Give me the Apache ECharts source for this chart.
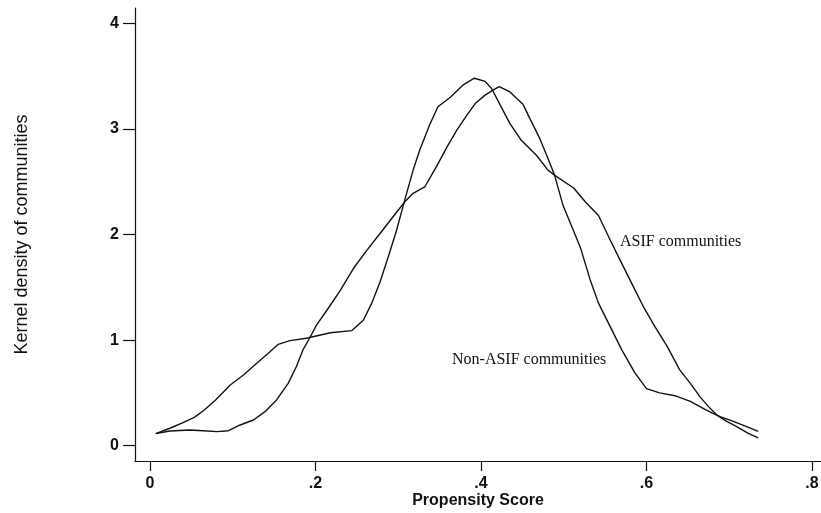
<!DOCTYPE html>
<html>
<head>
<meta charset="utf-8">
<script src="https://cdn.jsdelivr.net/npm/echarts@6/dist/echarts.min.js"></script>
<style>
  html, body { margin: 0; padding: 0; background: #fff; }
  #chart { width: 821px; height: 513px; }
</style>
</head>
<body>
<div id="chart"></div>
<script>
// kernel density curves: [propensity score, density]
const asifCurve = [
  [0.007, 0.114], [0.024, 0.165], [0.040, 0.218], [0.054, 0.27], [0.066, 0.34],
  [0.079, 0.43], [0.097, 0.575], [0.113, 0.67], [0.129, 0.78], [0.143, 0.875],
  [0.155, 0.96], [0.169, 0.995], [0.189, 1.017], [0.218, 1.07], [0.244, 1.09],
  [0.258, 1.19], [0.268, 1.35], [0.278, 1.55], [0.288, 1.79], [0.298, 2.04],
  [0.308, 2.33], [0.318, 2.61], [0.326, 2.80], [0.338, 3.04], [0.348, 3.21],
  [0.363, 3.30], [0.379, 3.42], [0.392, 3.48], [0.405, 3.45], [0.413, 3.38],
  [0.423, 3.23], [0.435, 3.05], [0.449, 2.89], [0.467, 2.75], [0.481, 2.61],
  [0.491, 2.55], [0.512, 2.44], [0.526, 2.31], [0.542, 2.18], [0.556, 1.95],
  [0.568, 1.76], [0.582, 1.54], [0.596, 1.32], [0.610, 1.13], [0.625, 0.94],
  [0.640, 0.72], [0.653, 0.59], [0.665, 0.46], [0.675, 0.37], [0.685, 0.29],
  [0.697, 0.23], [0.709, 0.18], [0.723, 0.117], [0.735, 0.075]
];
const nonAsifCurve = [
  [0.007, 0.114], [0.024, 0.139], [0.048, 0.149], [0.064, 0.142], [0.081, 0.133],
  [0.095, 0.142], [0.109, 0.196], [0.125, 0.243], [0.139, 0.322], [0.153, 0.433],
  [0.167, 0.59], [0.177, 0.75], [0.185, 0.91], [0.193, 1.02], [0.201, 1.14],
  [0.214, 1.285], [0.230, 1.47], [0.246, 1.68], [0.262, 1.85], [0.278, 2.01],
  [0.294, 2.17], [0.308, 2.31], [0.318, 2.39], [0.332, 2.45], [0.346, 2.64],
  [0.359, 2.83], [0.371, 2.99], [0.383, 3.13], [0.393, 3.24], [0.405, 3.32],
  [0.415, 3.37], [0.422, 3.40], [0.435, 3.35], [0.451, 3.23], [0.459, 3.10],
  [0.471, 2.91], [0.481, 2.72], [0.489, 2.56], [0.499, 2.28], [0.520, 1.88],
  [0.532, 1.57], [0.542, 1.35], [0.556, 1.13], [0.570, 0.91], [0.586, 0.69],
  [0.600, 0.54], [0.616, 0.50], [0.636, 0.47], [0.653, 0.42], [0.669, 0.35],
  [0.679, 0.31], [0.689, 0.275], [0.705, 0.23], [0.721, 0.18], [0.735, 0.135]
];
const xTicks = [0, 0.2, 0.4, 0.6, 0.8];
const yTicks = [0, 1, 2, 3, 4];
const curveNames = ['ASIF communities', 'Non-ASIF communities'];

const chart = echarts.init(document.getElementById('chart'), null, { renderer: 'canvas' });

// stata style: drop the leading zero
const fmt = (v) => (v === 0 ? '0' : String(v).replace(/^0/, ''));
const sans = '"Liberation Sans", Arial, sans-serif';
const serif = '"Liberation Serif", "Times New Roman", serif';

const option = {
  backgroundColor: '#ffffff',
  animation: false,
  grid: { left: 135, right: 0, top: 8, bottom: 52, containLabel: false, outerBoundsMode: 'none' },
  xAxis: {
    type: 'value',
    min: -0.0181,
    max: 0.8109,
    name: 'Propensity Score',
    nameLocation: 'middle',
    nameGap: 32,
    nameMoveOverlap: false,
    nameTextStyle: { fontFamily: sans, fontSize: 16, fontWeight: 'bold', color: '#111' },
    axisLine: { onZero: false, lineStyle: { color: '#111', width: 1.2 } },
    axisTick: { show: true, length: 10, customValues: xTicks, lineStyle: { color: '#111', width: 1.2 } },
    axisLabel: {
      customValues: xTicks,
      formatter: fmt,
      margin: 15,
      fontFamily: sans,
      fontSize: 16,
      fontWeight: 'bold',
      color: '#111'
    },
    splitLine: { show: false }
  },
  yAxis: {
    type: 'value',
    min: -0.145,
    max: 4.145,
    name: 'Kernel density of communities',
    nameLocation: 'middle',
    nameGap: 104,
    nameMoveOverlap: false,
    nameTextStyle: { fontFamily: sans, fontSize: 18, color: '#111' },
    axisLine: { show: true, onZero: false, lineStyle: { color: '#111', width: 1.2 } },
    axisTick: { show: true, length: 12, customValues: yTicks, lineStyle: { color: '#111', width: 1.2 } },
    axisLabel: {
      customValues: yTicks,
      formatter: fmt,
      margin: 16,
      fontFamily: sans,
      fontSize: 16,
      fontWeight: 'bold',
      color: '#111'
    },
    splitLine: { show: false }
  },
  series: [
    {
      name: curveNames[0],
      type: 'line',
      data: asifCurve,
      showSymbol: false,
      smooth: false,
      lineStyle: { color: '#111', width: 1.4 }
    },
    {
      name: curveNames[1],
      type: 'line',
      data: nonAsifCurve,
      showSymbol: false,
      smooth: false,
      lineStyle: { color: '#111', width: 1.4 }
    }
  ],
  graphic: [
    {
      type: 'text',
      left: 620,
      top: 234,
      style: { text: curveNames[0], font: '16px ' + serif, fill: '#111' }
    },
    {
      type: 'text',
      left: 452,
      top: 352,
      style: { text: curveNames[1], font: '16px ' + serif, fill: '#111' }
    }
  ]
};

chart.setOption(option);
</script>
</body>
</html>
